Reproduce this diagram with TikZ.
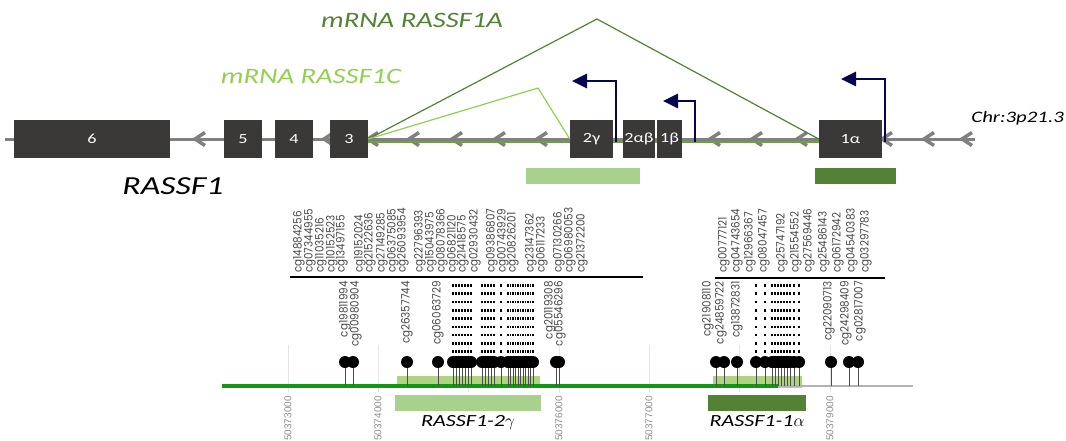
\documentclass[tikz,border=0pt]{standalone}
\usepackage{fontspec}
\setmainfont[FakeStretch=1.3]{Carlito}
\newfontfamily\cgfont[FakeStretch=0.9]{Poppins}
\newfontfamily\axisfont{Liberation Sans}
\usepackage{tikz}
\usetikzlibrary{arrows.meta,positioning,backgrounds}

\definecolor{exongray}{RGB}{59,56,56}
\definecolor{promblue}{RGB}{5,5,80}
\definecolor{dkgreen}{RGB}{84,130,53}
\definecolor{ltgreen}{RGB}{146,208,80}
\definecolor{barlight}{RGB}{169,209,142}
\definecolor{trackgreen}{RGB}{20,150,20}
\definecolor{regionfill}{RGB}{150,195,90}
\definecolor{cggray}{RGB}{70,70,70}

\begin{document}
\begin{tikzpicture}[
    x=1pt, y=-1pt,
    exon/.style={rectangle, fill=exongray, text=white, minimum height=38pt, inner sep=0pt, font=\fontsize{14}{16}\selectfont},
    backbone/.style={draw=gray, line width=3pt},
    chevron/.style={draw=gray, line width=3.5pt},
    mrna/.style={line width=1.2pt},
    promoter/.style={draw=promblue, line width=2.8pt, -{Triangle[length=15pt,width=14pt]}},
    title/.style={font=\fontsize{22}{24}\selectfont\itshape},
    bar/.style={rectangle, minimum height=16pt, inner sep=0pt},
    region/.style={rectangle, fill=regionfill, fill opacity=0.75, minimum height=12pt, inner sep=0pt},
    cgtop/.style={rotate=90, anchor=west, inner sep=0pt, text=cggray, font=\cgfont\fontsize{11.5}{12}\selectfont},
    cgbot/.style={cgtop, anchor=east},
    axislbl/.style={rotate=90, anchor=east, inner sep=0pt, text=gray!90, font=\axisfont\fontsize{10}{11}\selectfont},
    lolli/.style={circle, fill=black, minimum size=12pt, inner sep=0pt},
    stem/.style={draw=black!70, line width=0.8pt},
    leader/.style={draw=black, line width=1.2pt, dash pattern=on 2.6pt off 5.7pt},
    header/.style={draw=black, line width=1.5pt}
]
\useasboundingbox (0,0) rectangle (1066,440);

% gene track
\node (ex6) [exon, minimum width=156pt] at (92,139) {6};
\node (ex5) [exon, minimum width=38pt] at (243,139) {5};
\node (ex4) [exon, minimum width=38pt] at (294,139) {4};
\node (ex3) [exon, minimum width=38pt] at (349,139) {3};
\node (ex2g) [exon, minimum width=43pt] at (591.5,139) {2γ};
\node (ex2ab) [exon, minimum width=32pt] at (639,139) {2αβ};
\node (ex1b) [exon, minimum width=25pt] at (669.5,139) {1β};
\node (ex1a) [exon, minimum width=63pt] at (850.5,139) {1α};

\coordinate (bbL) at (5,139);
\coordinate (bbR) at (975,139);
\begin{scope}[on background layer]
\draw [backbone] (bbL) -- (bbR);
\foreach \c in {195,324,368,409,452,495,537,710,752,797,882,924,962}
    \draw [chevron] (\c+10,132.5) -- (\c,139) -- (\c+10,145.5);
\draw [mrna, draw=dkgreen!60!ltgreen] ([yshift=-3pt]ex3.east) -- ([yshift=-3pt]ex1a.west);
\end{scope}

% splicing
\coordinate (peakA) at (597,19);
\coordinate (peakC) at (538,88);
\draw [mrna, dkgreen] (ex3.east) -- (peakA) -- (ex1a.west);
\draw [mrna, ltgreen] (ex3.east) -- (peakC) -- (ex2g.west);

\node (lblA) [title, text=dkgreen] at (412,20) {mRNA RASSF1A};
\node (lblC) [title, text=ltgreen] at (311,76) {mRNA RASSF1C};
\node (gene) [font=\fontsize{26}{28}\selectfont\itshape] at (173,186) {RASSF1};
\node (chr) [font=\fontsize{16}{18}\selectfont\itshape, anchor=east, inner sep=0pt] at (1064,118) {Chr:3p21.3};

% promoters
\coordinate (tss2g) at (616,142);
\coordinate (tip2g) at (572,81);
\coordinate (tss1b) at (695,142);
\coordinate (tip1b) at (663,101);
\coordinate (tss1a) at (885,142);
\coordinate (tip1a) at (841,79);
\draw [promoter] (tss2g) |- (tip2g);
\draw [promoter] (tss1b) |- (tip1b);
\draw [promoter] (tss1a) |- (tip1a);

\node (bar2g) [bar, fill=barlight, minimum width=114pt] at (583,176) {};
\node (bar1a) [bar, fill=dkgreen, minimum width=81pt] at (855.5,176) {};

% CpG probes
\coordinate (hdrLa) at (290,277);
\coordinate (hdrLb) at (643,277);
\coordinate (hdrRa) at (715,278);
\coordinate (hdrRb) at (885,278);
\draw [header] (hdrLa) -- (hdrLb);
\draw [header] (hdrRa) -- (hdrRb);

\foreach \cg/\x [count=\i] in {14884256/299,07344955/310,11035216/321,10152523/332,13497155/342,
    19152024/360,21522636/370,27149285/382,06375085/393,26093954/403,22796393/420,15043975/431,
    08078366/442,06821120/453,21418575/463,02930432/475,09386807/492,00743929/503,20826201/513,
    23147362/531,06117233/542,07130266/559,06980053/570,21372200/582}
    \node (topL\i) [cgtop] at (\x,273) {cg\cg};
\foreach \cg/\x [count=\i] in {00777121/724,04743654/737,12966367/750,08047457/764,25747192/782,
    21554552/796,27569446/809,25486143/824,06172942/838,04540383/852,03297783/866}
    \node (topR\i) [cgtop] at (\x,273) {cg\cg};
\foreach \cg/\x [count=\i] in {19811994/345,00980904/356,26357744/407,06063729/438,20119308/550,05546296/560,
    21908110/708,24859722/721,13872831/737,22090713/829,24298409/846,02817007/860}
    \node (botL\i) [cgbot] at (\x,281) {cg\cg};

% genomic axis
\coordinate (trkL) at (222,386);
\coordinate (trkM) at (778,386);
\coordinate (trkR) at (913,386);
\foreach \t in {288,378,468,559,649,739,830}
    \draw [gray!20, line width=0.8pt] (\t,345) -- (\t,392);
\node (reg2g) [region, minimum width=143pt] at (468.5,381.5) {};
\node (reg1a) [region, minimum width=89pt] at (757.5,381.5) {};
\draw [gray!60, line width=1.5pt] (trkM) -- (trkR);
\draw [trackgreen, line width=4.5pt] (trkL) -- (trkM);
\foreach \t/\v in {288/50373000,378/50374000,559/50376000,649/50377000,830/50379000}
    \node (tk\v) [axislbl] at (\t,396) {\v};

\foreach \x [count=\i] in {345,353,407,438,556,559,716,724,737,831,849,858} {
    \node (cpgA\i) [lolli] at (\x,362) {};
    \draw [stem] (cpgA\i.south) -- (cpgA\i |- trkL);
}
\foreach \x [count=\i] in {453,456,459,462,465,468,471,482,485,488,491,494,501,
    508,510.5,513,515.5,518,520.5,523,525.5,528,530.5,533,
    756,765,772,775,778,781,784,787,790,794,799} {
    \node (cpgB\i) [lolli] at (\x,362) {};
    \draw [stem] (cpgB\i.south) -- (cpgB\i |- trkL);
    \draw [leader] ([yshift=-7pt]cpgB\i |- hdrLa) -- (cpgB\i.north);
}

\node (box2g) [bar, fill=barlight, minimum width=146pt] at (468,403) {};
\node (box1a) [bar, fill=dkgreen, minimum width=98pt] at (757,403) {};
\node (txt2g) [below=1pt of box2g, font=\fontsize{17}{18}\selectfont\itshape] {RASSF1-2$\gamma$};
\node (txt1a) [below=1pt of box1a, font=\fontsize{17}{18}\selectfont\itshape] {RASSF1-1$\alpha$};
\end{tikzpicture}
\end{document}
